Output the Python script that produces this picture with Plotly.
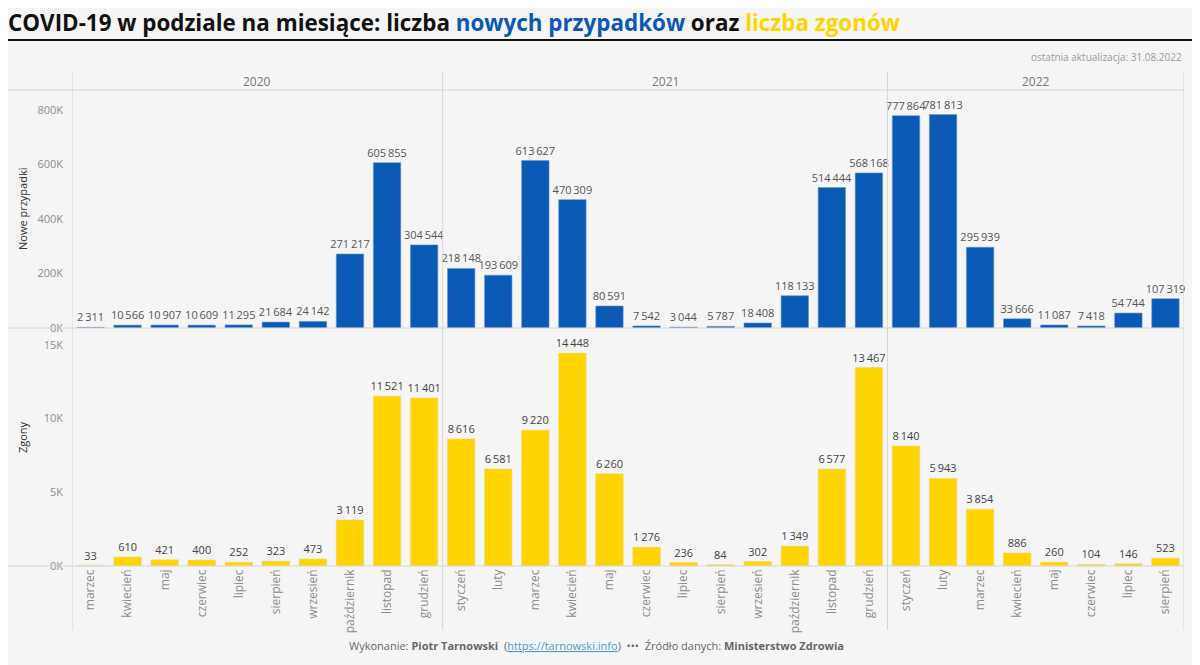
import plotly.graph_objects as go

# ───────────────────────────── data ─────────────────────────────────────────
years = ["2020", "2021", "2022"]
months_2020 = ["marzec", "kwiecień", "maj", "czerwiec", "lipiec", "sierpień",
               "wrzesień", "październik", "listopad", "grudzień"]
months_2021 = ["styczeń", "luty", "marzec", "kwiecień", "maj", "czerwiec",
               "lipiec", "sierpień", "wrzesień", "październik", "listopad",
               "grudzień"]
months_2022 = ["styczeń", "luty", "marzec", "kwiecień", "maj", "czerwiec",
               "lipiec", "sierpień"]

cases_2020 = [2311, 10566, 10907, 10609, 11295, 21684, 24142, 271217, 605855, 304544]
cases_2021 = [218148, 193609, 613627, 470309, 80591, 7542, 3044, 5787, 18408,
              118133, 514444, 568168]
cases_2022 = [777864, 781813, 295939, 33666, 11087, 7418, 54744, 107319]

deaths_2020 = [33, 610, 421, 400, 252, 323, 473, 3119, 11521, 11401]
deaths_2021 = [8616, 6581, 9220, 14448, 6260, 1276, 236, 84, 302, 1349, 6577, 13467]
deaths_2022 = [8140, 5943, 3854, 886, 260, 104, 146, 523]

cases_ticks = [0, 200000, 400000, 600000, 800000]
cases_ticktext = ["0K", "200K", "400K", "600K", "800K"]
deaths_ticks = [0, 5000, 10000, 15000]
deaths_ticktext = ["0K", "5K", "10K", "15K"]

# ───────────────────────────── styling ──────────────────────────────────────
BG = "#f5f5f5"
BLUE = "#0a59b5"
YELLOW = "#ffd400"
GREY = "#8a8a8a"
LINE = "#d6d6d6"
FONT = "Open Sans"

# page body adds an 8px margin, so the figure is 8px smaller each way
W, H = 1192, 657
PW, PH = 1112, 494          # plot area in px

month_groups = [months_2020, months_2021, months_2022]
keys, labels = [], []
for y, ms in zip(years, month_groups):
    for m in ms:
        keys.append(f"{y}|{m}")
        labels.append(m)
cases = cases_2020 + cases_2021 + cases_2022
deaths = deaths_2020 + deaths_2021 + deaths_2022

fig = go.Figure()
fig.add_trace(go.Bar(
    x=keys, y=cases, yaxis="y",
    marker=dict(color=BLUE, line=dict(color="#6d95c8", width=0.6)),
    texttemplate="%{y:,}", textposition="outside", constraintext="none",
    textfont=dict(size=11, color="#555555", family=FONT),
    cliponaxis=False, showlegend=False,
))
fig.add_trace(go.Bar(
    x=keys, y=deaths, yaxis="y2",
    marker=dict(color=YELLOW, line=dict(color="#e8d680", width=0.6)),
    texttemplate="%{y:,}", textposition="outside", constraintext="none",
    textfont=dict(size=11, color="#444444", family=FONT),
    cliponaxis=False, showlegend=False,
))

top_y = 1 - 18 / PH
split = (566 - 328) / PH

shapes, annotations = [], []

# year dividers + headers
n = 0
bounds = [-0.5]
for y, ms in zip(years, month_groups):
    start = n
    n += len(ms)
    bounds.append(n - 0.5)
    annotations.append(dict(
        x=(start + n - 1) / 2, xref="x", y=1 - 9 / PH, yref="paper",
        yanchor="middle", text=y, showarrow=False,
        font=dict(size=12, color="#777777", family=FONT),
    ))
for b in bounds:
    shapes.append(dict(type="line", xref="x", x0=b, x1=b,
                       yref="paper", y0=-0.13, y1=1.0,
                       line=dict(color=LINE, width=1)))

# header bottom line, zero lines
for yy in (top_y, split, 0):
    shapes.append(dict(type="line", xref="paper", x0=-65 / PW, x1=1,
                       yref="paper", y0=yy, y1=yy,
                       line=dict(color=LINE, width=1)))
# title underline
shapes.append(dict(type="line", xref="paper", x0=-67 / PW, x1=1123 / PW,
                   yref="paper", y0=1 + 32 / PH, y1=1 + 32 / PH,
                   line=dict(color="#111111", width=2)))

annotations += [
    dict(x=-66 / PW, xref="paper", xanchor="left",
         y=1 + 50 / PH, yref="paper", yanchor="middle", showarrow=False,
         text=("<b>COVID-19 w podziale na miesiące: liczba "
               f"<span style='color:{BLUE}'>nowych przypadków</span> oraz "
               f"<span style='color:{YELLOW}'>liczba zgonów</span></b>"),
         font=dict(size=22.4, color="#111111", family=FONT)),
    dict(x=1, xref="paper", xanchor="right",
         y=1 + 15 / PH, yref="paper", yanchor="middle", showarrow=False,
         text="ostatnia aktualizacja: 31.08.2022",
         font=dict(size=10, color="#999999", family=FONT)),
    dict(x=-50 / PW, xref="paper", xanchor="center",
         y=(top_y + split) / 2, yref="paper", yanchor="middle", showarrow=False,
         text="Nowe przypadki", textangle=-90,
         font=dict(size=11, color="#333333", family=FONT)),
    dict(x=-50 / PW, xref="paper", xanchor="center",
         y=split / 2 + 0.02, yref="paper", yanchor="middle", showarrow=False,
         text="Zgony", textangle=-90,
         font=dict(size=11, color="#333333", family=FONT)),
    dict(x=524 / PW, xref="paper", xanchor="center",
         y=-79 / PH, yref="paper", yanchor="middle", showarrow=False,
         text=("Wykonanie: <b>Piotr Tarnowski</b>  "
               "(<span style='color:#4a9ec4'><u>https://tarnowski.info</u></span>)"
               "  •••  Źródło danych: <b>Ministerstwo Zdrowia</b>"),
         font=dict(size=11, color="#666666", family=FONT)),
]

fig.update_layout(
    width=W, height=H,
    margin=dict(l=64, r=W - 64 - PW, t=64, b=H - 64 - PH),
    paper_bgcolor=BG, plot_bgcolor=BG,
    separators=",\u2009",
    bargap=0.26,
    font=dict(family=FONT, color=GREY),
    xaxis=dict(type="category", categoryorder="array", categoryarray=keys,
               tickvals=keys, ticktext=labels, tickangle=-90,
               tickfont=dict(size=12, color="#8c8c8c", family=FONT),
               showgrid=False, showline=False, ticks="", anchor="y2",
               range=[-0.5, len(keys) - 0.5], automargin=False),
    yaxis=dict(domain=[split, top_y], range=[0, 872000],
               tickvals=cases_ticks, ticktext=cases_ticktext,
               tickfont=dict(size=11, color="#8c8c8c", family=FONT),
               showgrid=False, zeroline=False, ticks="", ticklabelstandoff=8,
               automargin=False),
    yaxis2=dict(domain=[0, split], range=[0, 16150],
                tickvals=deaths_ticks, ticktext=deaths_ticktext,
                tickfont=dict(size=11, color="#8c8c8c", family=FONT),
                showgrid=False, zeroline=False, ticks="", ticklabelstandoff=8,
                automargin=False),
    shapes=shapes, annotations=annotations,
)

fig.write_html("out.html")
